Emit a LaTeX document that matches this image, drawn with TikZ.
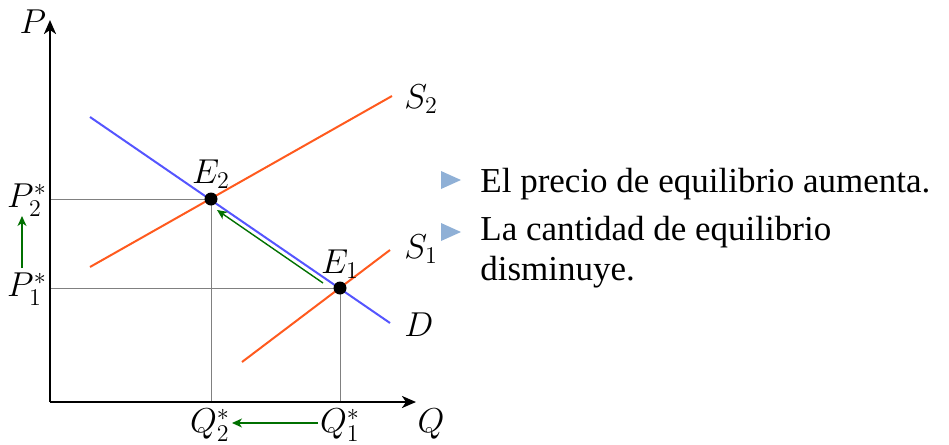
\documentclass[tikz,border=0pt]{standalone}
\usepackage{fontspec}
\setmainfont{Liberation Serif}
\usetikzlibrary{arrows.meta}
\definecolor{supcol}{HTML}{FF5A1E}
\definecolor{demcol}{HTML}{5555FF}
\definecolor{arrcol}{HTML}{007000}
\definecolor{bulcol}{HTML}{8FB0D6}
\begin{document}
\begin{tikzpicture}[x=0.5pt,y=-0.5pt,
  axis/.style={line width=1.2pt,-{Stealth[length=7pt,width=6pt,inset=2pt]}},
  curveS/.style={line width=1pt,supcol},
  curveD/.style={line width=1pt,demcol},
  guide/.style={line width=0.4pt,gray},
  movearrow/.style={line width=0.7pt,arrcol,-{Stealth[length=5pt,width=4.5pt,inset=1.5pt]}},
  lbl/.style={font=\fontsize{16.5}{19}\selectfont,inner sep=0pt},
  dot/.style={circle,fill=black,inner sep=0pt,minimum size=6.5pt},
  txt/.style={font=\fontsize{17.5}{21}\selectfont,inner sep=0pt,anchor=base west}]
\useasboundingbox (0,0) rectangle (949,445);
% coordinates
\coordinate (O) at (50,402);
\coordinate (ytop) at (50,20);
\coordinate (xend) at (416,402);
\coordinate (E2c) at (211,199);
\coordinate (E1c) at (340,288);
\coordinate (P2) at (50,199);
\coordinate (P1) at (50,288);
\coordinate (Q2) at (211,402);
\coordinate (Q1) at (340,402);
% guides
\draw[guide] (P2) -- (E2c) -- (Q2);
\draw[guide] (P1) -- (E1c) -- (Q1);
% curves
\coordinate (Da) at (90,117);
\coordinate (Db) at (390,323);
\coordinate (S2a) at (90,267);
\coordinate (S2b) at (392,96);
\coordinate (S1a) at (242,362);
\coordinate (S1b) at (390,250);
\draw[curveD] (Da) -- (Db);
\draw[curveS] (S2a) -- (S2b);
\draw[curveS] (S1a) -- (S1b);
% axes
\draw[axis] (O) -- (ytop);
\draw[axis] (O) -- (xend);
% dots on top
\node[dot] (E2) at (E2c) {};
\node[dot] (E1) at (E1c) {};
% labels
\node[lbl] (Plab) at (33,22) {$P$};
\node[lbl] (Qlab) at (431,424) {$Q$};
\node[lbl] (E2lab) at (211,174) {$E_2$};
\node[lbl] (E1lab) at (340,264) {$E_1$};
\node[lbl,anchor=west] (S2lab) at (404,99) {$S_2$};
\node[lbl,anchor=west] (S1lab) at (404,249) {$S_1$};
\node[lbl,anchor=west] (Dlab) at (404,325) {$D$};
\node[lbl] (P2lab) at (27,200) {$P_2^*$};
\node[lbl] (P1lab) at (27,289) {$P_1^*$};
\node[lbl] (Q2lab) at (210,425) {$Q_2^*$};
\node[lbl] (Q1lab) at (340,425) {$Q_1^*$};
% shift arrows
\coordinate (pa) at (22,268);
\coordinate (pb) at (22,216);
\coordinate (qa) at (318,423);
\coordinate (qb) at (232,423);
\coordinate (ea) at (323,283);
\coordinate (eb) at (217,210);
\draw[movearrow] (pa) -- (pb);
\draw[movearrow] (qa) -- (qb);
\draw[movearrow] (ea) -- (eb);
% bullets
\fill[bulcol] (441,171) -- (461,180) -- (441,189) -- cycle;
\fill[bulcol] (441,223) -- (461,232) -- (441,241) -- cycle;
\node[txt] (t1) at (480,192) {El precio de equilibrio aumenta.};
\node[txt] (t2) at (480,240) {La cantidad de equilibrio};
\node[txt] (t3) at (480,280) {disminuye.};
\end{tikzpicture}
\end{document}
